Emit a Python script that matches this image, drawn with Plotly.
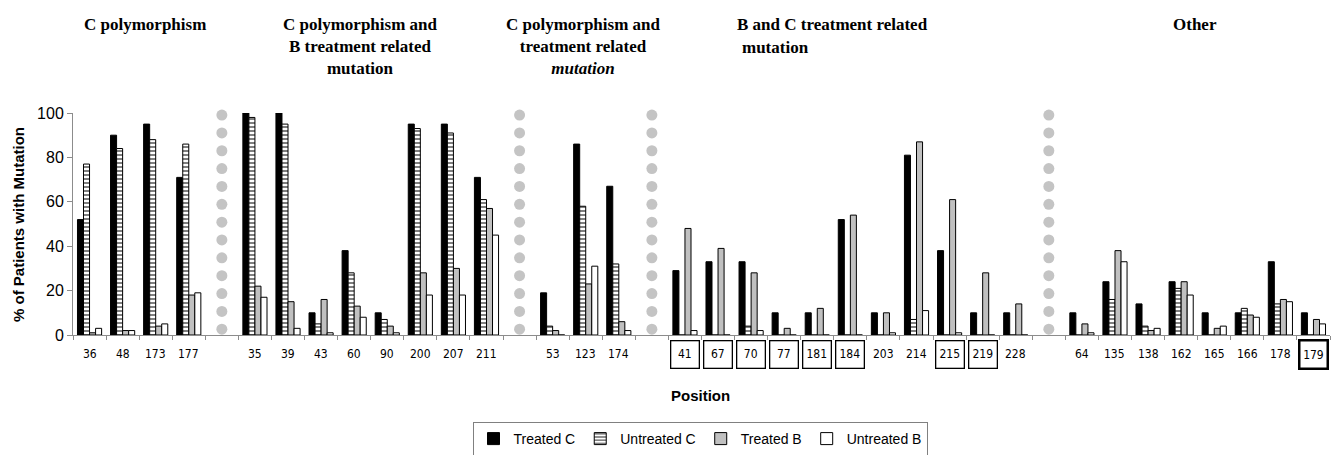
import numpy as np
import plotly.graph_objects as go

# ---------------- data ----------------
group_titles = [
    "<b>C polymorphism</b>",
    "<b>C polymorphism and<br>B treatment related<br>mutation</b>",
    "<b>C polymorphism and<br>treatment related<br><i>mutation</i></b>",
    "<b>B and C treatment related</b>",
    "<b>Other</b>",
]
group_positions = [
    ["36", "48", "173", "177"],
    ["35", "39", "43", "60", "90", "200", "207", "211"],
    ["53", "123", "174"],
    ["41", "67", "70", "77", "181", "184", "203", "214", "215", "219", "228"],
    ["64", "135", "138", "162", "165", "166", "178", "179"],
]
boxed_positions = ["41", "67", "70", "77", "181", "184", "215", "219"]
bold_boxed_positions = ["179"]

treated_c = [52, 90, 95, 71,
             100, 100, 10, 38, 10, 95, 95, 71,
             19, 86, 67,
             29, 33, 33, 10, 10, 52, 10, 81, 38, 10, 10,
             10, 24, 14, 24, 10, 10, 33, 10]
untreated_c = [77, 84, 88, 86,
               98, 95, 5, 28, 7, 93, 91, 61,
               4, 58, 32,
               0, 0, 4, 0, 0, 0, 0, 7, 0, 0, 0,
               0, 16, 4, 21, 0, 12, 14, 0]
treated_b = [1, 2, 4, 18,
             22, 15, 16, 13, 4, 28, 30, 57,
             2, 23, 6,
             48, 39, 28, 3, 12, 54, 10, 87, 61, 28, 14,
             5, 38, 2, 24, 3, 9, 16, 7]
untreated_b = [3, 2, 5, 19,
               17, 3, 1, 8, 1, 18, 18, 45,
               0, 31, 2,
               2, 0, 2, 0, 0, 0, 1, 11, 1, 0, 0,
               1, 33, 3, 18, 4, 8, 15, 5]

# ---------------- layout helpers ----------------
PL, PR, PT, PB = 73, 9, 113, 120
W, H = 1339, 455
plot_w = W - PL - PR
plot_h = H - PT - PB

# build category indices with a blank slot between groups
xs, labels, sep_idx = [], [], []
idx = 0
for gi, g in enumerate(group_positions):
    for p in g:
        xs.append(idx)
        labels.append(p)
        idx += 1
    if gi < len(group_positions) - 1:
        sep_idx.append(idx)
        idx += 1
n_cat = idx

def px_to_x(p):
    return (p - PL) / plot_w * n_cat - 0.5

def py_to_paper(p):
    return (PT + plot_h - p) / plot_h

fig = go.Figure()

line_k = dict(color="black", width=1)
fig.add_bar(x=xs, y=treated_c, name="Treated C",
            marker=dict(color="black", line=line_k))
fig.add_bar(x=xs, y=untreated_c, name="Untreated C",
            marker=dict(color="white", line=line_k,
                        pattern=dict(shape="-", fgcolor="black", bgcolor="white",
                                     size=4, solidity=0.5, fillmode="overlay")))
fig.add_bar(x=xs, y=treated_b, name="Treated B",
            marker=dict(color="#c0c0c0", line=line_k))
fig.add_bar(x=xs, y=untreated_b, name="Untreated B",
            marker=dict(color="white", line=line_k))

# dotted grey separators
sep_counts = [19, 14, 14, 19]
dx, dy = [], []
for s, c in zip(sep_idx, sep_counts):
    for k in range(c):
        dx.append(s)
        dy.append(2.6 + 8.04 * k)
fig.add_scatter(x=dx, y=dy, mode="markers", showlegend=False, hoverinfo="skip",
                cliponaxis=False,
                marker=dict(size=11, color="#c4c4c4", line=dict(width=0)))

annotations = []
label_font = dict(family="Liberation Sans Narrow, DejaVu Sans Condensed, Arial", size=12, color="black")
for x, lab in zip(xs, labels):
    a = dict(x=x, y=py_to_paper(354), xref="x", yref="paper", text=lab,
             showarrow=False, font=label_font, yanchor="middle", xanchor="center")
    if lab in boxed_positions:
        a.update(bordercolor="black", borderwidth=1.3, borderpad=0, width=27, height=26)
    elif lab in bold_boxed_positions:
        a.update(bordercolor="black", borderwidth=2.5, borderpad=0, width=26, height=26)
    annotations.append(a)

title_font = dict(family="Liberation Serif, Times New Roman, serif", size=17, color="black")
title_px = [145, 360, 583, 832, 1195]
for t, p in zip(group_titles, title_px):
    annotations.append(dict(x=px_to_x(p), y=py_to_paper(13), xref="x", yref="paper",
                            text=t, showarrow=False, font=title_font,
                            xanchor="center", yanchor="top", align="center"))
annotations.append(dict(x=px_to_x(775), y=py_to_paper(36), xref="x", yref="paper",
                        text="<b>mutation</b>", showarrow=False, font=title_font,
                        xanchor="center", yanchor="top"))

axis_font = dict(family="Liberation Sans, Arial", size=15, color="black")
annotations.append(dict(x=(18 - PL) / plot_w, y=py_to_paper(225), xref="paper", yref="paper",
                        text="<b>% of Patients with Mutation</b>", textangle=-90,
                        showarrow=False, font=axis_font, xanchor="center", yanchor="middle"))
annotations.append(dict(x=px_to_x(700), y=py_to_paper(395), xref="x", yref="paper",
                        text="<b>Position</b>", showarrow=False, font=axis_font,
                        xanchor="center", yanchor="middle"))

fig.update_layout(
    width=W, height=H,
    margin=dict(l=PL, r=PR, t=PT, b=PB, pad=0, autoexpand=False),
    paper_bgcolor="white", plot_bgcolor="white",
    barmode="group", bargap=0.27, bargroupgap=0,
    font=dict(family="Liberation Sans, Arial", color="black"),
    annotations=annotations,
    legend=dict(orientation="h", x=(700 - PL) / plot_w, xanchor="center",
                y=py_to_paper(422), yanchor="top",
                bordercolor="#808080", borderwidth=1, bgcolor="white",
                font=dict(family="Liberation Sans, Arial", size=14, color="black"),
                itemwidth=30, tracegroupgap=0),
    xaxis=dict(range=[-0.5, n_cat - 0.5], showgrid=False, zeroline=False,
               showline=True, linecolor="#8c8c8c", linewidth=1,
               tickmode="array", tickvals=list(np.arange(-0.5, n_cat, 1.0)),
               showticklabels=False, ticks="outside", ticklen=4, tickcolor="#8c8c8c"),
    yaxis=dict(range=[0, 100], dtick=20, showgrid=False, zeroline=False,
               showline=True, linecolor="#8c8c8c", linewidth=1,
               ticks="outside", ticklen=5, tickcolor="#8c8c8c",
               tickfont=dict(family="Liberation Sans, Arial", size=16, color="black")),
)

fig.write_html("out.html", config={"displayModeBar": False},
               post_script="document.body.style.margin='0';document.body.style.overflow='hidden';")
